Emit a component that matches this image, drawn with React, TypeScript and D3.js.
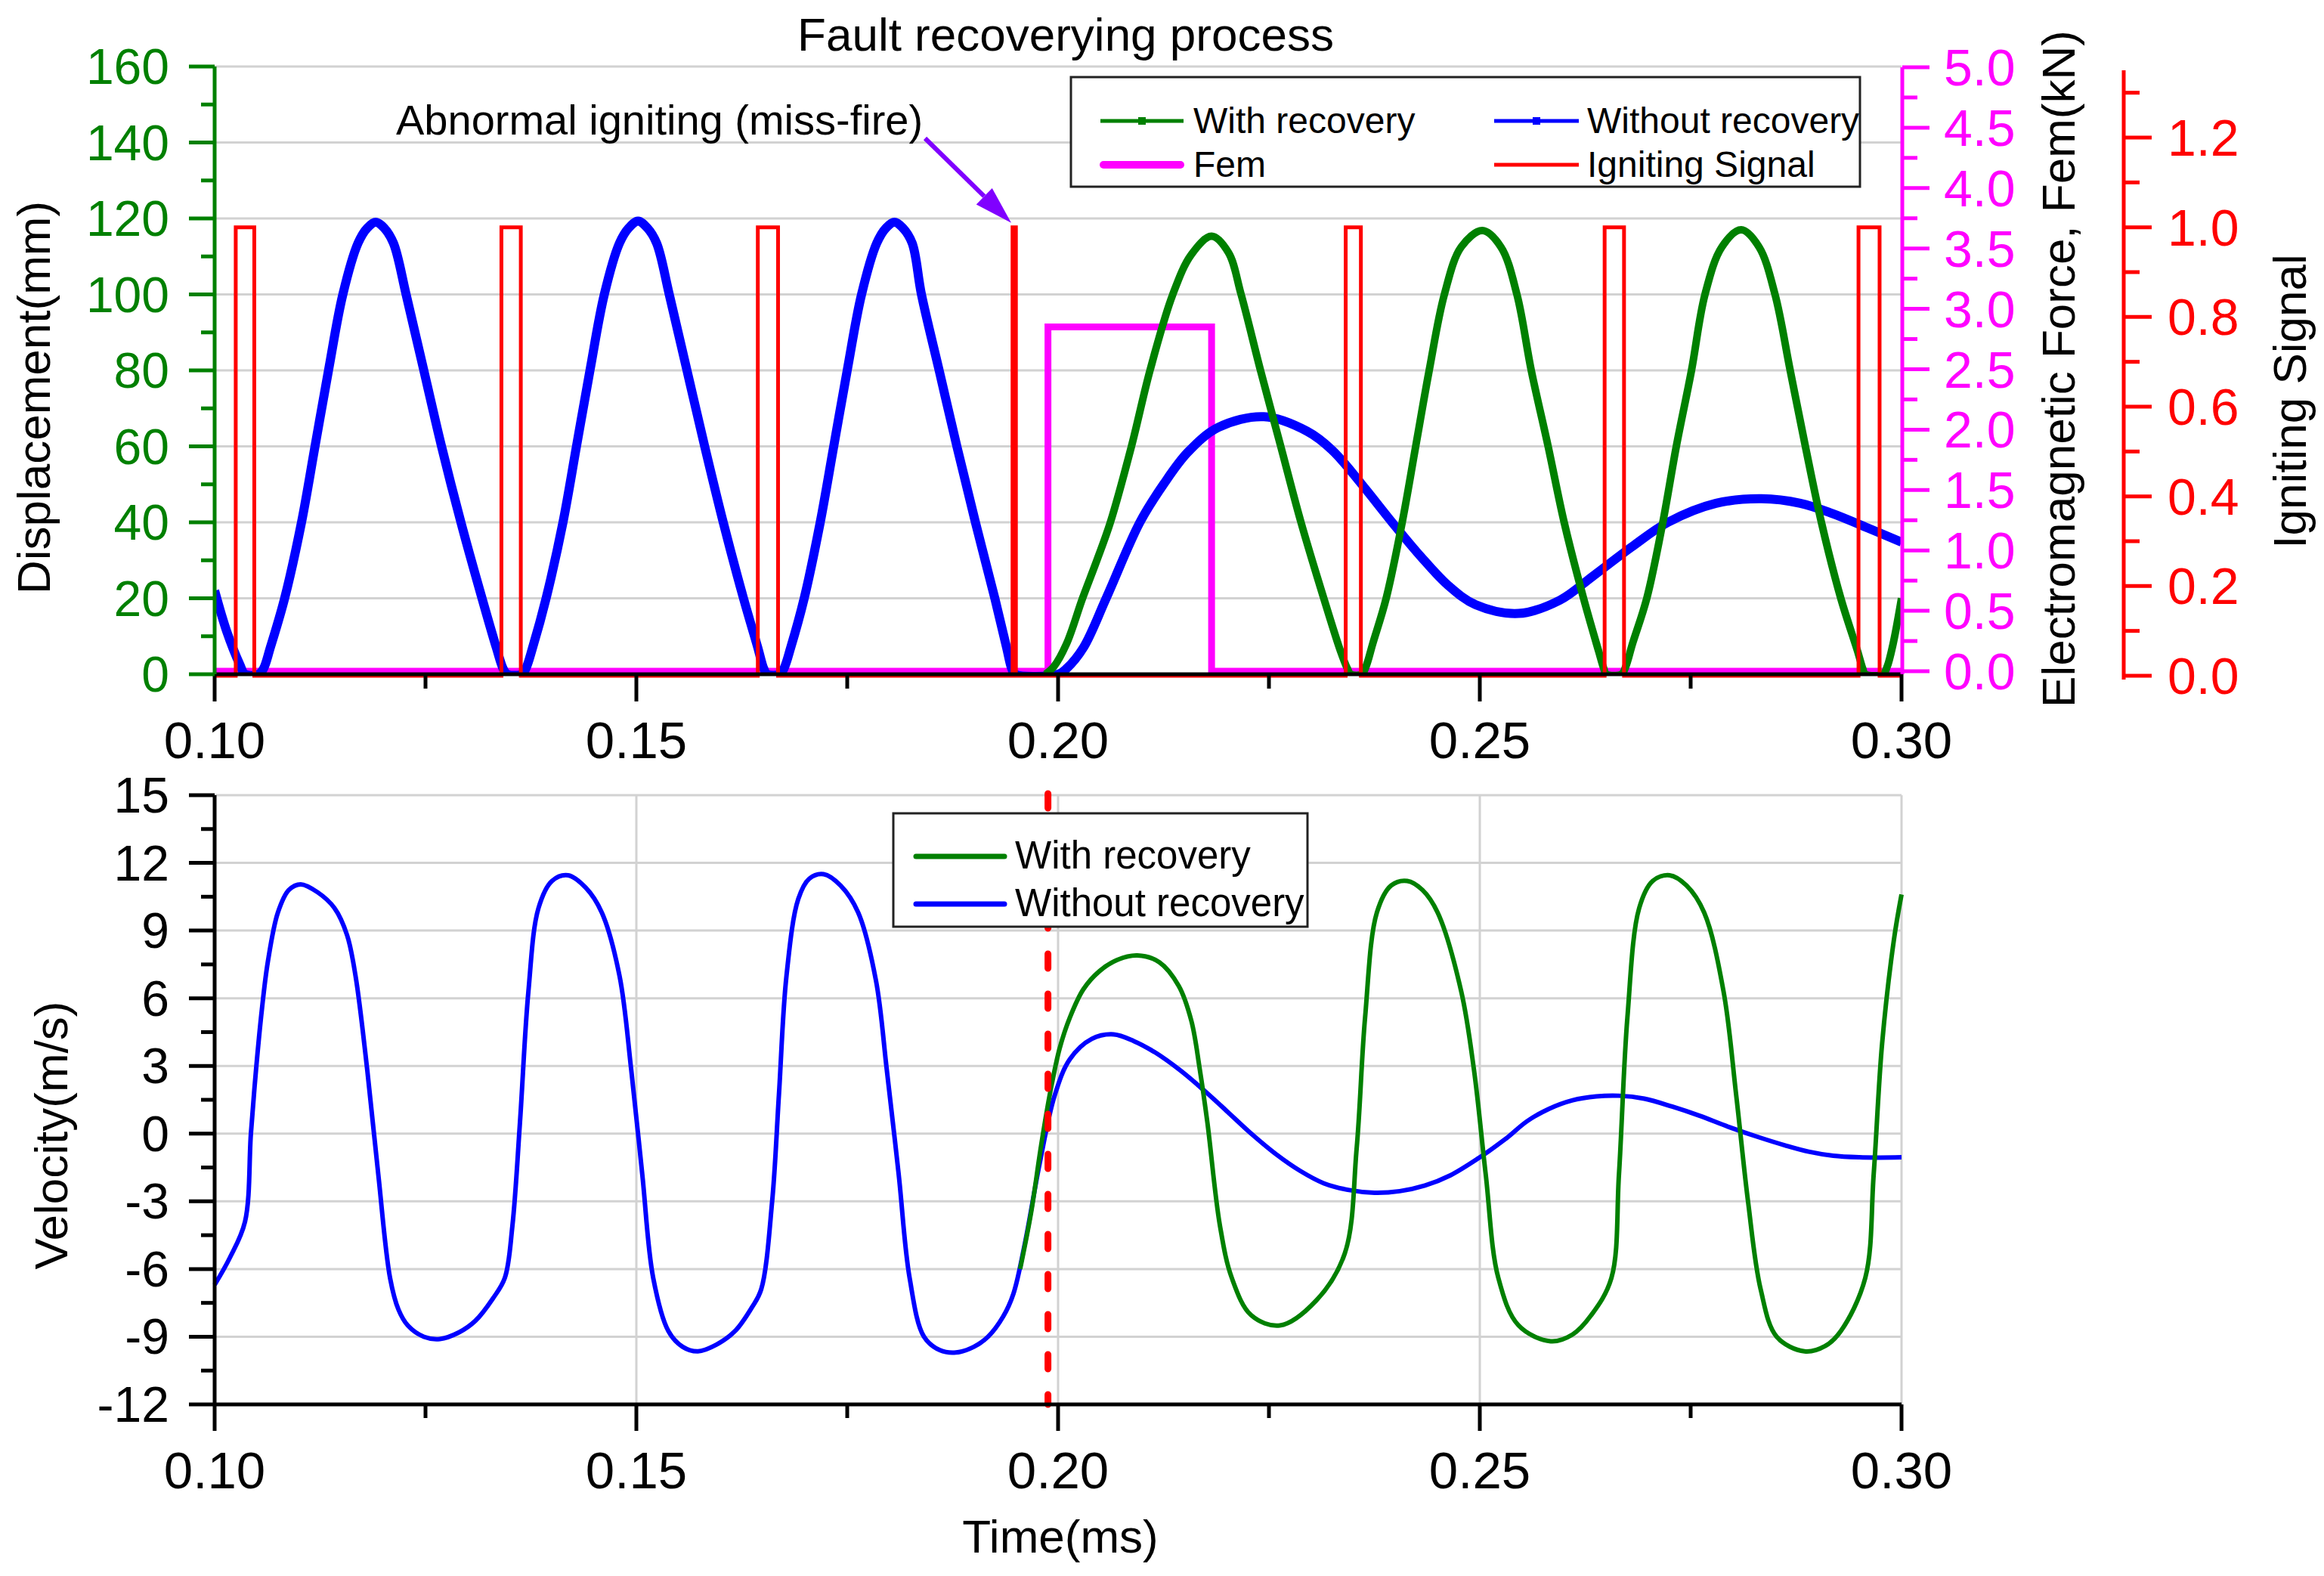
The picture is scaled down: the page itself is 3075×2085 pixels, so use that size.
import React from 'react';
import * as d3 from 'd3';

const W = 3075;
const H = 2085;
const FONT = "'Liberation Sans', Arial, Helvetica, sans-serif";

// ---------- tick data ----------
const xTicks = [0.1, 0.15, 0.2, 0.25, 0.3];
const xTickLabels = ['0.10', '0.15', '0.20', '0.25', '0.30'];
const xMinorTicks = [0.125, 0.175, 0.225, 0.275];
const dispTicks = [0, 20, 40, 60, 80, 100, 120, 140, 160];
const dispMinorTicks = [10, 30, 50, 70, 90, 110, 130, 150];
const femTicks = [0, 0.5, 1, 1.5, 2, 2.5, 3, 3.5, 4, 4.5, 5];
const femTickLabels = ['0.0', '0.5', '1.0', '1.5', '2.0', '2.5', '3.0', '3.5', '4.0', '4.5', '5.0'];
const femMinorTicks = [0.25, 0.75, 1.25, 1.75, 2.25, 2.75, 3.25, 3.75, 4.25, 4.75];
const ignTicks = [0, 0.2, 0.4, 0.6, 0.8, 1.0, 1.2];
const ignTickLabels = ['0.0', '0.2', '0.4', '0.6', '0.8', '1.0', '1.2'];
const ignMinorTicks = [0.1, 0.3, 0.5, 0.7, 0.9, 1.1, 1.3];
const velTicks = [-12, -9, -6, -3, 0, 3, 6, 9, 12, 15];
const velMinorTicks = [-10.5, -7.5, -4.5, -1.5, 1.5, 4.5, 7.5, 10.5, 13.5];

// ---------- series data ----------
// Displacement (mm), without recovery
const dispWithout: [number, number][] = [
  [0.1, 22], [0.1014, 11.5], [0.103, 2.5], [0.1036, 0], [0.1052, 0],
  [0.1058, 1.5], [0.1066, 7], [0.1083, 20], [0.1103, 40], [0.1119, 60], [0.1135, 80], [0.1152, 100],
  [0.117, 113.5], [0.1181, 117.5], [0.1191, 119], [0.1201, 117.5], [0.1212, 113.5], [0.1227, 100],
  [0.1248, 80], [0.1269, 60], [0.1292, 40], [0.1317, 20], [0.1334, 7], [0.1342, 1.5], [0.1347, 0],
  [0.1364, 0], [0.1369, 1.5], [0.1377, 7], [0.1393, 20], [0.1413, 40], [0.1429, 60], [0.1445, 80],
  [0.1462, 100], [0.148, 113.5], [0.1491, 117.5], [0.1502, 119.3], [0.1513, 117.5], [0.1524, 113.5],
  [0.1539, 100], [0.156, 80], [0.1581, 60], [0.1603, 40], [0.1627, 20], [0.1644, 7], [0.1651, 1.5], [0.1655, 0],
  [0.167, 0], [0.1675, 1.5], [0.1683, 7], [0.1699, 20], [0.1718, 40], [0.1734, 60], [0.175, 80],
  [0.1767, 100], [0.1785, 113.5], [0.1796, 117.5], [0.1806, 119], [0.1816, 117.5], [0.1827, 113.5],
  [0.1838, 100], [0.1859, 80], [0.188, 60], [0.1902, 40], [0.1925, 20], [0.1939, 7], [0.1945, 1.5], [0.1949, 0],
  [0.2, 0], [0.201, 1.5], [0.203, 7], [0.2057, 20], [0.2097, 40], [0.2125, 50], [0.2154, 58.5], [0.219, 65],
  [0.2244, 67.8], [0.2295, 64], [0.2325, 59], [0.236, 50], [0.2396, 40], [0.243, 31], [0.2462, 23.5],
  [0.2495, 18.3], [0.2546, 16], [0.2595, 19.5], [0.2634, 25.8], [0.268, 33.5], [0.2723, 40],
  [0.278, 45], [0.2834, 46.2], [0.288, 45], [0.2918, 42.3], [0.296, 38.5], [0.3, 34.8],
];

// Displacement (mm), with recovery
const dispWith: [number, number][] = [
  [0.1985, 0], [0.1995, 2], [0.201, 8], [0.2029, 20], [0.2046, 30], [0.2062, 40], [0.2087, 60], [0.2109, 80],
  [0.2136, 100], [0.2158, 110.5], [0.2182, 115.3], [0.2202, 111], [0.2217, 100], [0.224, 80], [0.2264, 60],
  [0.2288, 40], [0.2315, 20], [0.2335, 6], [0.2343, 1.5], [0.2347, 0],
  [0.236, 0], [0.2365, 2], [0.2373, 8], [0.2389, 20], [0.2408, 40], [0.2424, 60], [0.244, 80], [0.2458, 100],
  [0.2478, 112.5], [0.2503, 116.8], [0.2525, 112.5], [0.2544, 100], [0.2561, 80], [0.2581, 60], [0.26, 40],
  [0.2623, 20], [0.2641, 6], [0.2647, 1.5], [0.265, 0],
  [0.2668, 0], [0.2673, 2], [0.2681, 8], [0.2698, 20], [0.2717, 40], [0.2733, 60], [0.2751, 80], [0.2767, 100],
  [0.2787, 112.5], [0.281, 117], [0.2831, 112.5], [0.285, 100], [0.2868, 80], [0.2886, 60], [0.2905, 40],
  [0.2928, 20], [0.2948, 6], [0.2954, 1.5], [0.2957, 0],
  [0.2978, 0], [0.2983, 2], [0.299, 8], [0.3, 20],
];

// Electromagnetic force (kN)
const femT = [0.1, 0.1988, 0.1988, 0.2182, 0.2182, 0.3];
const femV = [0, 0, 2.85, 2.85, 0, 0];

// Igniting signal pulses (value 1 between start and end)
const pulseStart = [0.1025, 0.134, 0.1644, 0.1946, 0.2341, 0.2648, 0.2949];
const pulseEnd = [0.1047, 0.1363, 0.1668, 0.195, 0.2359, 0.2671, 0.2974];

// Velocity (m/s), without recovery
const velWithout: [number, number][] = [
  [0.1, -6.7], [0.1018, -5.5], [0.1036, -3.9], [0.1043, 0], [0.1049, 2.8], [0.1056, 5.5], [0.1063, 7.6],
  [0.1075, 9.8], [0.1088, 10.8], [0.1102, 11.05], [0.1122, 10.7], [0.1142, 10.0], [0.1157, 8.8], [0.1167, 7.0],
  [0.1181, 2.8], [0.1194, -1.8], [0.1208, -6.4], [0.1218, -7.8], [0.1229, -8.5], [0.1248, -9.0], [0.1267, -9.1],
  [0.129, -8.8], [0.1309, -8.3], [0.133, -7.3], [0.1344, -6.4], [0.1353, -4.1], [0.1362, 0.5], [0.1372, 6.3],
  [0.1384, 10.0], [0.14, 11.2], [0.1419, 11.45], [0.144, 10.9], [0.1459, 9.8], [0.148, 7.0], [0.1494, 2.8],
  [0.1507, -1.8], [0.152, -6.4], [0.1538, -8.75], [0.1555, -9.45], [0.1573, -9.65], [0.1595, -9.35],
  [0.1617, -8.75], [0.1637, -7.7], [0.1648, -6.9], [0.1661, -3.0], [0.1669, 1.7], [0.1678, 7.0], [0.1692, 10.4],
  [0.1705, 11.3], [0.1722, 11.5], [0.1742, 11.0], [0.1763, 9.8], [0.1784, 6.8], [0.1797, 2.8], [0.1811, -1.8],
  [0.1824, -6.4], [0.1841, -9.0], [0.186, -9.6], [0.1879, -9.7], [0.19, -9.45], [0.1917, -9.0], [0.1935, -8.1],
  [0.1947, -7.1], [0.1961, -4.8], [0.1978, -1.35], [0.1996, 1.7], [0.2014, 3.3], [0.204, 4.2], [0.2066, 4.4],
  [0.209, 4.1], [0.2115, 3.6], [0.2145, 2.8], [0.2172, 1.95], [0.22, 1.0], [0.2229, 0.0], [0.2258, -0.9],
  [0.2287, -1.65], [0.2315, -2.2], [0.2345, -2.5], [0.2375, -2.62], [0.2405, -2.55], [0.2435, -2.3],
  [0.2465, -1.85], [0.2498, -1.1], [0.253, -0.25], [0.2556, 0.55], [0.2582, 1.1], [0.261, 1.48],
  [0.2638, 1.65], [0.2665, 1.68], [0.2695, 1.55], [0.2728, 1.2], [0.276, 0.8], [0.2795, 0.3], [0.283, -0.15],
  [0.2862, -0.52], [0.289, -0.8], [0.2919, -0.98], [0.295, -1.05], [0.2975, -1.06], [0.3, -1.05],
];

// Velocity (m/s), with recovery
const velWith: [number, number][] = [
  [0.1955, -6.0], [0.1968, -3.5], [0.198, -0.5], [0.1991, 1.9], [0.2002, 3.8], [0.2014, 5.15], [0.203, 6.4],
  [0.2049, 7.2], [0.207, 7.7], [0.2094, 7.9], [0.212, 7.6], [0.2143, 6.55], [0.2158, 5.0], [0.2168, 2.85],
  [0.2177, 0.5], [0.2192, -4.1], [0.2206, -6.4], [0.2229, -8.05], [0.2263, -8.5], [0.2306, -7.4], [0.234, -5.3],
  [0.2354, -0.65], [0.2364, 5.15], [0.2378, 9.8], [0.2395, 11.0], [0.2414, 11.2], [0.2432, 10.8], [0.245, 9.8],
  [0.2478, 6.3], [0.2493, 2.85], [0.2507, -1.8], [0.2522, -6.4], [0.2546, -8.5], [0.2584, -9.2], [0.261, -8.9],
  [0.2632, -8.05], [0.2656, -6.4], [0.2665, -1.8], [0.2675, 5.15], [0.2689, 10.0], [0.2705, 11.2], [0.2725, 11.45],
  [0.2745, 11.0], [0.2766, 9.8], [0.2789, 6.3], [0.2804, 1.7], [0.2818, -3.0], [0.2833, -6.9], [0.2852, -9.0],
  [0.2885, -9.65], [0.291, -9.4], [0.2928, -8.75], [0.2957, -6.4], [0.2967, -1.8], [0.2977, 4.0], [0.2991, 8.6],
  [0.3, 10.6],
];

const recoveryT = 0.1988;
const missFireT = 0.1948;

// ---------- colours ----------
const GREEN = '#008000';
const BLUE = '#0000ff';
const RED = '#ff0000';
const MAGENTA = '#ff00ff';
const GRID = '#d2d2d2';

export default function App() {
  const x = d3.scaleLinear().domain([0.1, 0.3]).range([284, 2516]);
  const yDisp = d3.scaleLinear().domain([0, 160]).range([892, 88]);
  const yFem = d3.scaleLinear().domain([0, 5]).range([888, 89]);
  const yIgn = d3.scaleLinear().domain([0, 1.35]).range([894, 93]);
  const yVel = d3.scaleLinear().domain([-12, 15]).range([1858, 1052]);

  const smooth = d3.curveCatmullRom.alpha(0.5);
  const dispLine = d3.line<[number, number]>().x(d => x(d[0])).y(d => Math.min(yDisp(d[1]), 892)).curve(smooth);
  const velLine = d3.line<[number, number]>().x(d => x(d[0])).y(d => yVel(d[1])).curve(smooth);
  const femLine = d3.line<number>().x((_, i) => x(femT[i])).y(d => yFem(d));
  const ignPts: [number, number][] = [[0.1, 0]];
  pulseStart.forEach((s, i) => {
    ignPts.push([s, 0], [s, 1], [pulseEnd[i], 1], [pulseEnd[i], 0]);
  });
  ignPts.push([0.3, 0]);
  const ignLine = d3.line<[number, number]>().x(d => x(d[0])).y(d => yIgn(d[1]));

  const x0 = x(0.1);
  const x1 = x(0.3);

  // arrow
  const tipX = x(missFireT) - 4;
  const tipY = yIgn(1) - 6;
  const sX = 1224, sY = 183;
  const ang = Math.atan2(tipY - sY, tipX - sX);
  const hl = 50, hw = 15;
  const bx = tipX - hl * Math.cos(ang), by = tipY - hl * Math.sin(ang);
  const px = -Math.sin(ang) * hw, py = Math.cos(ang) * hw;

  return (
    <svg width={W} height={H} viewBox={`0 0 ${W} ${H}`}
      style={{ position: 'absolute', left: 0, top: 0, background: '#fff' }}
      fontFamily={FONT}>
      <rect x={0} y={0} width={W} height={H} fill="#fff" />
      <defs>
        <clipPath id="topClip"><rect x={284} y={60} width={2232} height={832} /></clipPath>
      </defs>

      {/* ================= TOP PANEL ================= */}
      {dispTicks.filter(v => v > 0).map(v => (
        <line key={'gd' + v} x1={x0} x2={x1} y1={yDisp(v)} y2={yDisp(v)} stroke={GRID} strokeWidth={3} />
      ))}

      {/* Fem */}
      <path d={femLine(femV) || ''} fill="none" stroke={MAGENTA} strokeWidth={9} strokeLinejoin="miter" />
      {/* displacement */}
      <g clipPath="url(#topClip)">
        <path d={dispLine(dispWithout) || ''} fill="none" stroke={BLUE} strokeWidth={12} strokeLinejoin="round" />
        <path d={dispLine(dispWith) || ''} fill="none" stroke={GREEN} strokeWidth={10} strokeLinejoin="round" />
      </g>
      {/* igniting signal */}
      <path d={ignLine(ignPts) || ''} fill="none" stroke={RED} strokeWidth={5} />

      {/* bottom x axis (top panel) */}
      <line x1={x0} x2={x1} y1={892} y2={892} stroke="#000" strokeWidth={5} />
      {xTicks.map(t => (
        <line key={'tx' + t} x1={x(t)} x2={x(t)} y1={892} y2={928} stroke="#000" strokeWidth={5} />
      ))}
      {xMinorTicks.map(t => (
        <line key={'tmx' + t} x1={x(t)} x2={x(t)} y1={892} y2={911} stroke="#000" strokeWidth={5} />
      ))}
      {xTicks.map((t, i) => (
        <text key={'tl' + t} x={x(t)} y={1003} fontSize={69} textAnchor="middle" fill="#000">{xTickLabels[i]}</text>
      ))}

      {/* left green axis */}
      <line x1={284} x2={284} y1={yDisp(160)} y2={yDisp(0)} stroke={GREEN} strokeWidth={5} />
      {dispTicks.map(v => (
        <line key={'dt' + v} x1={284} x2={250} y1={yDisp(v)} y2={yDisp(v)} stroke={GREEN} strokeWidth={5} />
      ))}
      {dispMinorTicks.map(v => (
        <line key={'dmt' + v} x1={284} x2={266} y1={yDisp(v)} y2={yDisp(v)} stroke={GREEN} strokeWidth={5} />
      ))}
      {dispTicks.map(v => (
        <text key={'dl' + v} x={224} y={yDisp(v) + 23} fontSize={66} textAnchor="end" fill={GREEN}>{v}</text>
      ))}
      <text transform={`translate(66,526) rotate(-90)`} fontSize={62} textAnchor="middle" fill="#000">Displacement(mm)</text>

      {/* right magenta axis (Fem) */}
      <line x1={2517} x2={2517} y1={yFem(5)} y2={892} stroke={MAGENTA} strokeWidth={5} />
      {femTicks.map(v => (
        <line key={'ft' + v} x1={2517} x2={2553} y1={yFem(v)} y2={yFem(v)} stroke={MAGENTA} strokeWidth={5} />
      ))}
      {femMinorTicks.map(v => (
        <line key={'fmt' + v} x1={2517} x2={2537} y1={yFem(v)} y2={yFem(v)} stroke={MAGENTA} strokeWidth={5} />
      ))}
      {femTicks.map((v, i) => (
        <text key={'fl' + v} x={2572} y={yFem(v) + 24} fontSize={68} textAnchor="start" fill={MAGENTA}>{femTickLabels[i]}</text>
      ))}
      <text transform={`translate(2745,488) rotate(-90)`} fontSize={62} textAnchor="middle" fill="#000">Electromagnetic Force, Fem(kN)</text>

      {/* right red axis (Igniting signal) */}
      <line x1={2810} x2={2810} y1={yIgn(1.35)} y2={899} stroke={RED} strokeWidth={5} />
      {ignTicks.map(v => (
        <line key={'it' + v} x1={2810} x2={2847} y1={yIgn(v)} y2={yIgn(v)} stroke={RED} strokeWidth={5} />
      ))}
      {ignMinorTicks.map(v => (
        <line key={'imt' + v} x1={2810} x2={2831} y1={yIgn(v)} y2={yIgn(v)} stroke={RED} strokeWidth={5} />
      ))}
      {ignTicks.map((v, i) => (
        <text key={'il' + v} x={2868} y={yIgn(v) + 24} fontSize={68} textAnchor="start" fill={RED}>{ignTickLabels[i]}</text>
      ))}
      <text transform={`translate(3051,531) rotate(-90)`} fontSize={62} textAnchor="middle" fill="#000">Igniting Signal</text>

      {/* title */}
      <text x={1410} y={67} fontSize={62} textAnchor="middle" fill="#000">Fault recoverying process</text>

      {/* annotation */}
      <text x={524} y={178} fontSize={56} textAnchor="start" fill="#000">Abnormal igniting (miss-fire)</text>
      <line x1={sX} y1={sY} x2={bx} y2={by} stroke="#8000ff" strokeWidth={6} />
      <polygon points={`${tipX},${tipY} ${bx + px},${by + py} ${bx - px},${by - py}`} fill="#8000ff" />

      {/* top legend */}
      <rect x={1417} y={102} width={1044} height={145} fill="#fff" stroke="#222" strokeWidth={3} />
      <line x1={1456} x2={1566} y1={160} y2={160} stroke={GREEN} strokeWidth={5} />
      <rect x={1506} y={155} width={10} height={10} fill={GREEN} />
      <text x={1579} y={176} fontSize={48} fill="#000">With recovery</text>
      <line x1={1977} x2={2089} y1={160} y2={160} stroke={BLUE} strokeWidth={5} />
      <rect x={2028} y={155} width={10} height={10} fill={BLUE} />
      <text x={2100} y={176} fontSize={48} fill="#000">Without recovery</text>
      <line x1={1460} x2={1562} y1={218} y2={218} stroke={MAGENTA} strokeWidth={10} strokeLinecap="round" />
      <text x={1579} y={234} fontSize={48} fill="#000">Fem</text>
      <line x1={1977} x2={2089} y1={218} y2={218} stroke={RED} strokeWidth={5} />
      <text x={2100} y={234} fontSize={48} fill="#000">Igniting Signal</text>

      {/* ================= BOTTOM PANEL ================= */}
      {velTicks.filter(v => v > -12).map(v => (
        <line key={'gv' + v} x1={x0} x2={x1} y1={yVel(v)} y2={yVel(v)} stroke={GRID} strokeWidth={3} />
      ))}
      {xTicks.filter(t => t > 0.1).map(t => (
        <line key={'gvx' + t} x1={x(t)} x2={x(t)} y1={yVel(15)} y2={yVel(-12)} stroke={GRID} strokeWidth={3} />
      ))}

      <path d={velLine(velWithout) || ''} fill="none" stroke={BLUE} strokeWidth={6} strokeLinejoin="round" />
      <path d={velLine(velWith) || ''} fill="none" stroke={GREEN} strokeWidth={6} strokeLinejoin="round" />

      {/* red dashed marker */}
      <line x1={x(recoveryT)} x2={x(recoveryT)} y1={yVel(15) - 2} y2={yVel(-12)} stroke={RED} strokeWidth={9}
        strokeDasharray="19 34" strokeLinecap="round" />

      {/* axes */}
      <line x1={x0} x2={x1} y1={1858} y2={1858} stroke="#000" strokeWidth={5} />
      {xTicks.map(t => (
        <line key={'btx' + t} x1={x(t)} x2={x(t)} y1={1858} y2={1893} stroke="#000" strokeWidth={5} />
      ))}
      {xMinorTicks.map(t => (
        <line key={'bmx' + t} x1={x(t)} x2={x(t)} y1={1858} y2={1876} stroke="#000" strokeWidth={5} />
      ))}
      {xTicks.map((t, i) => (
        <text key={'btl' + t} x={x(t)} y={1969} fontSize={69} textAnchor="middle" fill="#000">{xTickLabels[i]}</text>
      ))}
      <line x1={284} x2={284} y1={yVel(15)} y2={yVel(-12)} stroke="#000" strokeWidth={5} />
      {velTicks.map(v => (
        <line key={'vt' + v} x1={284} x2={250} y1={yVel(v)} y2={yVel(v)} stroke="#000" strokeWidth={5} />
      ))}
      {velMinorTicks.map(v => (
        <line key={'vmt' + v} x1={284} x2={266} y1={yVel(v)} y2={yVel(v)} stroke="#000" strokeWidth={5} />
      ))}
      {velTicks.map(v => (
        <text key={'vl' + v} x={224} y={yVel(v) + 23} fontSize={66} textAnchor="end" fill="#000">{v}</text>
      ))}
      <text transform={`translate(89,1502) rotate(-90)`} fontSize={62} textAnchor="middle" fill="#000">Velocity(m/s)</text>
      <text x={1403} y={2054} fontSize={62} textAnchor="middle" fill="#000">Time(ms)</text>

      {/* bottom legend */}
      <rect x={1182} y={1076} width={548} height={150} fill="#fff" stroke="#222" strokeWidth={3} />
      <line x1={1212} x2={1329} y1={1133} y2={1133} stroke={GREEN} strokeWidth={7} strokeLinecap="round" />
      <text x={1343} y={1149} fontSize={51} fill="#000">With recovery</text>
      <line x1={1212} x2={1329} y1={1196} y2={1196} stroke={BLUE} strokeWidth={7} strokeLinecap="round" />
      <text x={1343} y={1212} fontSize={51} fill="#000">Without recovery</text>
    </svg>
  );
}
